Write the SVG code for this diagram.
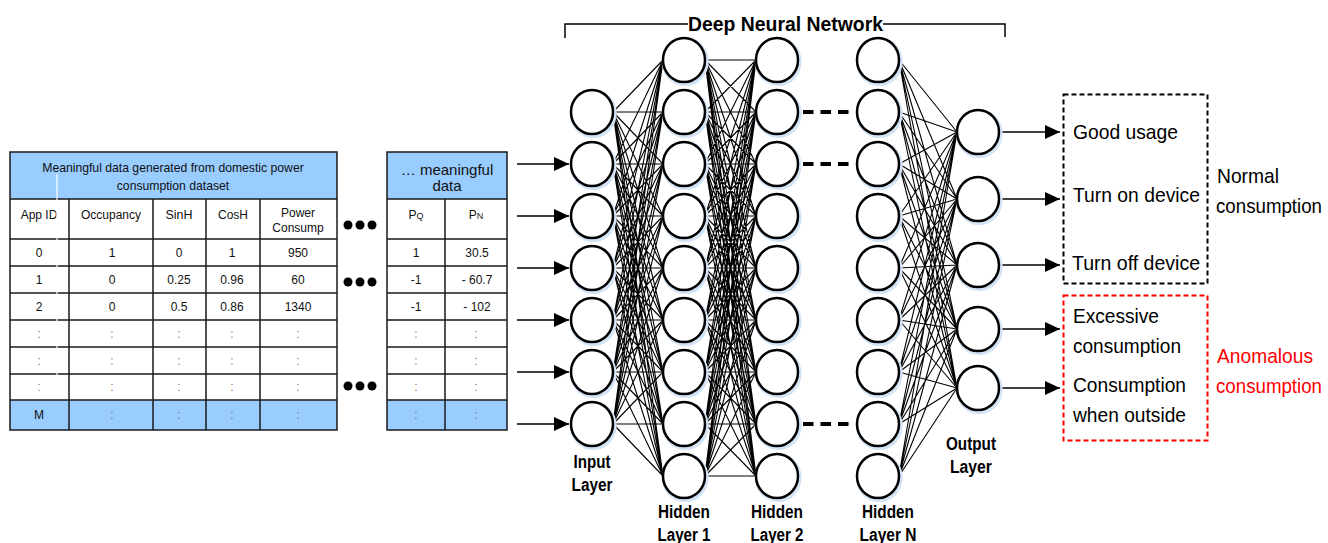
<svg xmlns="http://www.w3.org/2000/svg" xmlns:xlink="http://www.w3.org/1999/xlink" width="1328" height="543" viewBox="0 0 1328 543">
<style>
text{font-family:"Liberation Sans",Arial,sans-serif;fill:#111}
.tc{font-size:12px;text-anchor:middle}
.cl{font-size:12px;text-anchor:middle;fill:#777}
.b{font-size:18px;font-weight:bold;text-anchor:middle;fill:#000}
.o{font-size:21px;fill:#000}
.o2{font-size:19.5px;fill:#000}
.red{fill:#ff0000}
.grid{stroke:#1a1a1a;stroke-width:1.5;fill:none}
.blue{fill:#99ccff}
.conn{stroke:#000;stroke-width:1.1;fill:none}
.arr{stroke:#000;stroke-width:1.5;fill:none;marker-end:url(#ah)}
.dash{stroke:#000;stroke-width:4;stroke-dasharray:10.5 7;fill:none}
.dot{fill:#000}
</style>
<defs>
<marker id="ah" markerUnits="userSpaceOnUse" markerWidth="16" markerHeight="14" refX="15" refY="7" orient="auto">
<path d="M0,0L15,7L0,14z" fill="#000"/>
</marker>
<g id="neuron">
<ellipse cx="1.2" cy="1.6" rx="22" ry="23" fill="none" stroke="#d3e4f6" stroke-width="3"/>
<ellipse rx="21" ry="22" fill="#fff" stroke="#000" stroke-width="2.5"/>
</g>
</defs>
<rect width="1328" height="543" fill="#fff"/>

<!-- Table 1 -->
<g id="table1">
<rect x="10" y="152" width="327" height="47" class="blue"/>
<rect x="10" y="400" width="327" height="30" class="blue"/>
<rect x="10" y="152" width="327" height="278" class="grid"/>
<path class="grid" d="M10 199H337M10 239H337M10 266H337M10 293H337M10 320H337M10 347H337M10 374H337M10 400H337M69 199V430M153 199V430M206 199V430M260 199V430"/>
<text class="tc" x="173" y="172" style="font-size:12.2px">Meaningful data generated from domestic power</text>
<text class="tc" x="173" y="190" style="font-size:12.2px">consumption dataset</text>
<text class="tc" x="39" y="219">App ID</text>
<text class="tc" x="111" y="219">Occupancy</text>
<text class="tc" x="179" y="219" style="font-size:12.5px">SinH</text>
<text class="tc" x="233" y="219">CosH</text>
<text class="tc" x="298" y="217">Power</text>
<text class="tc" x="298" y="232">Consump</text>
<text class="tc" x="39" y="257">0</text><text class="tc" x="112" y="257">1</text><text class="tc" x="179" y="257">0</text><text class="tc" x="232" y="257">1</text><text class="tc" x="298" y="257">950</text>
<text class="tc" x="39" y="284">1</text><text class="tc" x="112" y="284">0</text><text class="tc" x="179" y="284">0.25</text><text class="tc" x="232" y="284">0.96</text><text class="tc" x="298" y="284">60</text>
<text class="tc" x="39" y="311">2</text><text class="tc" x="112" y="311">0</text><text class="tc" x="179" y="311">0.5</text><text class="tc" x="232" y="311">0.86</text><text class="tc" x="298" y="311">1340</text>
<text class="cl" x="39" y="338">:</text><text class="cl" x="112" y="338">:</text><text class="cl" x="179" y="338">:</text><text class="cl" x="232" y="338">:</text><text class="cl" x="298" y="338">:</text>
<text class="cl" x="39" y="365">:</text><text class="cl" x="112" y="365">:</text><text class="cl" x="179" y="365">:</text><text class="cl" x="232" y="365">:</text><text class="cl" x="298" y="365">:</text>
<text class="cl" x="39" y="391">:</text><text class="cl" x="112" y="391">:</text><text class="cl" x="179" y="391">:</text><text class="cl" x="232" y="391">:</text><text class="cl" x="298" y="391">:</text>
<text class="tc" x="39" y="419">M</text><text class="cl" x="112" y="419">:</text><text class="cl" x="179" y="419">:</text><text class="cl" x="232" y="419">:</text><text class="cl" x="298" y="419">:</text>
<path d="M57 174V398" stroke="#fff" stroke-width="1.2"/>
</g>

<!-- ellipsis dots -->
<g id="dots">
<circle class="dot" cx="348" cy="225" r="4.5"/><circle class="dot" cx="360" cy="225" r="4.5"/><circle class="dot" cx="372" cy="225" r="4.5"/>
<circle class="dot" cx="348" cy="282" r="4.5"/><circle class="dot" cx="360" cy="282" r="4.5"/><circle class="dot" cx="372" cy="282" r="4.5"/>
<circle class="dot" cx="348" cy="386" r="4.5"/><circle class="dot" cx="360" cy="386" r="4.5"/><circle class="dot" cx="372" cy="386" r="4.5"/>
</g>

<!-- Table 2 -->
<g id="table2">
<rect x="387" y="152" width="120" height="47" class="blue"/>
<rect x="387" y="400" width="120" height="30" class="blue"/>
<rect x="387" y="152" width="120" height="278" class="grid"/>
<path class="grid" d="M387 199H507M387 239H507M387 266H507M387 293H507M387 320H507M387 347H507M387 374H507M387 400H507M445 199V430"/>
<text class="tc" x="447" y="175" style="font-size:15px">… meaningful</text>
<text class="tc" x="447" y="191" style="font-size:15px">data</text>
<text class="tc" x="416" y="219">P<tspan style="font-size:9px">Q</tspan></text>
<text class="tc" x="476" y="219">P<tspan style="font-size:9px">N</tspan></text>
<text class="tc" x="416" y="257">1</text><text class="tc" x="477" y="257">30.5</text>
<text class="tc" x="416" y="284">-1</text><text class="tc" x="477" y="284">- 60.7</text>
<text class="tc" x="416" y="311">-1</text><text class="tc" x="477" y="311">- 102</text>
<text class="cl" x="416" y="338">:</text><text class="cl" x="476" y="338">:</text>
<text class="cl" x="416" y="365">:</text><text class="cl" x="476" y="365">:</text>
<text class="cl" x="416" y="391">:</text><text class="cl" x="476" y="391">:</text>
<text class="cl" x="416" y="419">:</text><text class="cl" x="476" y="419">:</text>
</g>

<!-- Title bracket -->
<g id="title">
<path d="M565 38V24H688M883 24H1005V37" stroke="#000" stroke-width="1.5" fill="none"/>
<text x="785.5" y="31" textLength="195" lengthAdjust="spacingAndGlyphs" style="font-size:21px;font-weight:bold;text-anchor:middle;fill:#000">Deep Neural Network</text>
</g>

<!-- Connectors -->
<g id="connectors">
<path class="conn" d="M613 112l50 -52M613 112l50 0M613 112l50 52M613 112l50 104M613 112l50 156M613 112l50 208M613 112l50 260M613 112l50 312M613 112l50 364
M613 164l50 -104M613 164l50 -52M613 164l50 0M613 164l50 52M613 164l50 104M613 164l50 156M613 164l50 208M613 164l50 260M613 164l50 312
M613 216l50 -156M613 216l50 -104M613 216l50 -52M613 216l50 0M613 216l50 52M613 216l50 104M613 216l50 156M613 216l50 208M613 216l50 260
M613 268l50 -208M613 268l50 -156M613 268l50 -104M613 268l50 -52M613 268l50 0M613 268l50 52M613 268l50 104M613 268l50 156M613 268l50 208
M613 320l50 -260M613 320l50 -208M613 320l50 -156M613 320l50 -104M613 320l50 -52M613 320l50 0M613 320l50 52M613 320l50 104M613 320l50 156
M613 372l50 -312M613 372l50 -260M613 372l50 -208M613 372l50 -156M613 372l50 -104M613 372l50 -52M613 372l50 0M613 372l50 52M613 372l50 104
M613 424l50 -364M613 424l50 -312M613 424l50 -260M613 424l50 -208M613 424l50 -156M613 424l50 -104M613 424l50 -52M613 424l50 0M613 424l50 52"/>
<path class="conn" d="M705 60l51 0M705 60l51 52M705 60l51 104M705 60l51 156M705 60l51 208M705 60l51 260M705 60l51 312M705 60l51 364M705 60l51 416
M705 112l51 -52M705 112l51 0M705 112l51 52M705 112l51 104M705 112l51 156M705 112l51 208M705 112l51 260M705 112l51 312M705 112l51 364
M705 164l51 -104M705 164l51 -52M705 164l51 0M705 164l51 52M705 164l51 104M705 164l51 156M705 164l51 208M705 164l51 260M705 164l51 312
M705 216l51 -156M705 216l51 -104M705 216l51 -52M705 216l51 0M705 216l51 52M705 216l51 104M705 216l51 156M705 216l51 208M705 216l51 260
M705 268l51 -208M705 268l51 -156M705 268l51 -104M705 268l51 -52M705 268l51 0M705 268l51 52M705 268l51 104M705 268l51 156M705 268l51 208
M705 320l51 -260M705 320l51 -208M705 320l51 -156M705 320l51 -104M705 320l51 -52M705 320l51 0M705 320l51 52M705 320l51 104M705 320l51 156
M705 372l51 -312M705 372l51 -260M705 372l51 -208M705 372l51 -156M705 372l51 -104M705 372l51 -52M705 372l51 0M705 372l51 52M705 372l51 104
M705 424l51 -364M705 424l51 -312M705 424l51 -260M705 424l51 -208M705 424l51 -156M705 424l51 -104M705 424l51 -52M705 424l51 0M705 424l51 52
M705 476l51 -416M705 476l51 -364M705 476l51 -312M705 476l51 -260M705 476l51 -208M705 476l51 -156M705 476l51 -104M705 476l51 -52M705 476l51 0"/>
<path class="conn" d="M899 60L957 132M899 60L957 199M899 60L957 265M899 60L957 329M899 60L957 388
M899 112L957 132M899 112L957 199M899 112L957 265M899 112L957 329M899 112L957 388
M899 164L957 132M899 164L957 199M899 164L957 265M899 164L957 329M899 164L957 388
M899 216L957 132M899 216L957 199M899 216L957 265M899 216L957 329M899 216L957 388
M899 268L957 132M899 268L957 199M899 268L957 265M899 268L957 329M899 268L957 388
M899 320L957 132M899 320L957 199M899 320L957 265M899 320L957 329M899 320L957 388
M899 372L957 132M899 372L957 199M899 372L957 265M899 372L957 329M899 372L957 388
M899 424L957 132M899 424L957 199M899 424L957 265M899 424L957 329M899 424L957 388
M899 476L957 132M899 476L957 199M899 476L957 265M899 476L957 329M899 476L957 388"/>
<path class="arr" d="M517 164H569"/>
<path class="arr" d="M517 216H569"/>
<path class="arr" d="M517 268H569"/>
<path class="arr" d="M517 320H569"/>
<path class="arr" d="M517 372H569"/>
<path class="arr" d="M517 424H569"/>
<path class="arr" d="M999 132H1060"/>
<path class="arr" d="M999 199H1060"/>
<path class="arr" d="M999 265H1060"/>
<path class="arr" d="M999 329H1060"/>
<path class="arr" d="M999 388H1060"/>
<path class="dash" d="M803 112H849M803 164H849M803 424H849"/>
</g>

<!-- Input layer -->
<g id="input-layer">
<g id="in1"><use xlink:href="#neuron" x="592" y="112"/></g>
<g id="in2"><use xlink:href="#neuron" x="592" y="164"/></g>
<g id="in3"><use xlink:href="#neuron" x="592" y="216"/></g>
<g id="in4"><use xlink:href="#neuron" x="592" y="268"/></g>
<g id="in5"><use xlink:href="#neuron" x="592" y="320"/></g>
<g id="in6"><use xlink:href="#neuron" x="592" y="372"/></g>
<g id="in7"><use xlink:href="#neuron" x="592" y="424"/></g>
<text class="b" x="592" y="468" textLength="37" lengthAdjust="spacingAndGlyphs">Input</text>
<text class="b" x="592" y="491" textLength="41" lengthAdjust="spacingAndGlyphs">Layer</text>
</g>

<!-- Hidden layer 1 -->
<g id="hidden-layer-1">
<g id="h1n1"><use xlink:href="#neuron" x="684" y="60"/></g>
<g id="h1n2"><use xlink:href="#neuron" x="684" y="112"/></g>
<g id="h1n3"><use xlink:href="#neuron" x="684" y="164"/></g>
<g id="h1n4"><use xlink:href="#neuron" x="684" y="216"/></g>
<g id="h1n5"><use xlink:href="#neuron" x="684" y="268"/></g>
<g id="h1n6"><use xlink:href="#neuron" x="684" y="320"/></g>
<g id="h1n7"><use xlink:href="#neuron" x="684" y="372"/></g>
<g id="h1n8"><use xlink:href="#neuron" x="684" y="424"/></g>
<g id="h1n9"><use xlink:href="#neuron" x="684" y="476"/></g>
<text class="b" x="684" y="518" textLength="52" lengthAdjust="spacingAndGlyphs">Hidden</text>
<text class="b" x="684" y="541" textLength="53" lengthAdjust="spacingAndGlyphs">Layer 1</text>
</g>

<!-- Hidden layer 2 -->
<g id="hidden-layer-2">
<g id="h2n1"><use xlink:href="#neuron" x="777" y="60"/></g>
<g id="h2n2"><use xlink:href="#neuron" x="777" y="112"/></g>
<g id="h2n3"><use xlink:href="#neuron" x="777" y="164"/></g>
<g id="h2n4"><use xlink:href="#neuron" x="777" y="216"/></g>
<g id="h2n5"><use xlink:href="#neuron" x="777" y="268"/></g>
<g id="h2n6"><use xlink:href="#neuron" x="777" y="320"/></g>
<g id="h2n7"><use xlink:href="#neuron" x="777" y="372"/></g>
<g id="h2n8"><use xlink:href="#neuron" x="777" y="424"/></g>
<g id="h2n9"><use xlink:href="#neuron" x="777" y="476"/></g>
<text class="b" x="777" y="518" textLength="52" lengthAdjust="spacingAndGlyphs">Hidden</text>
<text class="b" x="777" y="541" textLength="53" lengthAdjust="spacingAndGlyphs">Layer 2</text>
</g>

<!-- Hidden layer N -->
<g id="hidden-layer-n">
<g id="hnn1"><use xlink:href="#neuron" x="878" y="60"/></g>
<g id="hnn2"><use xlink:href="#neuron" x="878" y="112"/></g>
<g id="hnn3"><use xlink:href="#neuron" x="878" y="164"/></g>
<g id="hnn4"><use xlink:href="#neuron" x="878" y="216"/></g>
<g id="hnn5"><use xlink:href="#neuron" x="878" y="268"/></g>
<g id="hnn6"><use xlink:href="#neuron" x="878" y="320"/></g>
<g id="hnn7"><use xlink:href="#neuron" x="878" y="372"/></g>
<g id="hnn8"><use xlink:href="#neuron" x="878" y="424"/></g>
<g id="hnn9"><use xlink:href="#neuron" x="878" y="476"/></g>
<text class="b" x="888" y="518" textLength="52" lengthAdjust="spacingAndGlyphs">Hidden</text>
<text class="b" x="888" y="541" textLength="57" lengthAdjust="spacingAndGlyphs">Layer N</text>
</g>

<!-- Output layer -->
<g id="output-layer">
<g id="out1"><use xlink:href="#neuron" x="978" y="132"/></g>
<g id="out2"><use xlink:href="#neuron" x="978" y="199"/></g>
<g id="out3"><use xlink:href="#neuron" x="978" y="265"/></g>
<g id="out4"><use xlink:href="#neuron" x="978" y="329"/></g>
<g id="out5"><use xlink:href="#neuron" x="978" y="388"/></g>
<text class="b" x="971" y="450" textLength="50" lengthAdjust="spacingAndGlyphs">Output</text>
<text class="b" x="971" y="473" textLength="42" lengthAdjust="spacingAndGlyphs">Layer</text>
</g>

<!-- Normal outputs -->
<g id="normal-box">
<rect x="1063.5" y="94.5" width="144" height="189" fill="none" stroke="#000" stroke-width="2" stroke-dasharray="5 3"/>
<text class="o" x="1073" y="139" textLength="105" lengthAdjust="spacingAndGlyphs">Good usage</text>
<text class="o" x="1073" y="202" textLength="127" lengthAdjust="spacingAndGlyphs">Turn on device</text>
<text class="o" x="1072" y="270" textLength="128" lengthAdjust="spacingAndGlyphs">Turn off device</text>
<text class="o" x="1217" y="183" textLength="62" lengthAdjust="spacingAndGlyphs">Normal</text>
<text class="o2" x="1216" y="213" textLength="106" lengthAdjust="spacingAndGlyphs">consumption</text>
</g>

<!-- Anomalous outputs -->
<g id="anomalous-box">
<rect x="1063.5" y="295.5" width="144" height="145" fill="none" stroke="#ff0000" stroke-width="2" stroke-dasharray="5 3"/>
<text class="o" x="1073" y="323" textLength="86" lengthAdjust="spacingAndGlyphs">Excessive</text>
<text class="o" x="1073" y="353" textLength="108" lengthAdjust="spacingAndGlyphs">consumption</text>
<text class="o" x="1073" y="392" textLength="113" lengthAdjust="spacingAndGlyphs">Consumption</text>
<text class="o" x="1073" y="422" textLength="113" lengthAdjust="spacingAndGlyphs">when outside</text>
<text class="o red" x="1217" y="363" textLength="96" lengthAdjust="spacingAndGlyphs">Anomalous</text>
<text class="o2 red" x="1216" y="393" textLength="106" lengthAdjust="spacingAndGlyphs">consumption</text>
</g>
</svg>
